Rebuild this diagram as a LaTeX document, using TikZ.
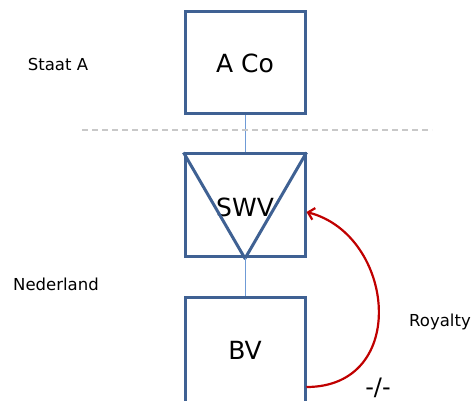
\documentclass[tikz,border=0pt]{standalone}
\usepackage{fontspec}
\setmainfont{DejaVu Sans}
\usetikzlibrary{arrows.meta}
\definecolor{boxblue}{HTML}{3F6193}
\definecolor{linkblue}{HTML}{6F9BD6}
\definecolor{royred}{HTML}{C00000}
\definecolor{dashgray}{HTML}{C8C8C8}
\begin{document}
\begin{tikzpicture}[x=1pt,y=-1pt,
  entity/.style={draw=boxblue, line width=3pt, minimum width=120pt, minimum height=102pt, inner sep=0pt, font=\fontsize{25}{28}\selectfont},
  label/.style={font=\fontsize{16.5}{18}\selectfont, inner sep=0pt},
  link/.style={draw=linkblue, line width=1pt},
  royalty/.style={draw=royred, line width=2.2pt, -{Straight Barb[length=6pt,width=12pt]}}]
\useasboundingbox (0,0) rectangle (472,401);
\clip (0,0) rectangle (472,401);
\node[entity] (aco) at (245,63) {A Co};
\node[entity, minimum height=103pt] (swv) at (245,205.5) {};
\node[font=\fontsize{25}{28}\selectfont] (swvt) at (245,207) {SWV};
\node[entity, minimum height=104pt] (bv) at (245,350) {BV};
\draw[boxblue, line width=3pt, line join=round] (swv.north west) -- (swv.south) -- (swv.north east);
\draw[link] (aco.south) -- (swv.north);
\draw[link] (swv.south) -- (bv.north);
\coordinate (dl1) at (82,130);
\coordinate (dl2) at (432,130);
\draw[dashgray, line width=1.5pt, dash pattern=on 6pt off 4pt] (dl1) -- (dl2);
\node[label] (staat) at (58,64) {Staat A};
\node[label] (ned) at (56,284) {Nederland};
\node[label] (roy) at (440,322) {Royalty};
\node[font=\fontsize{24}{26}\selectfont, inner sep=0pt] (nil) at (378,388) {-/-};
\coordinate (rs) at ([yshift=-37pt]bv.east);
\coordinate (re) at ([yshift=-6.5pt]swv.east);
\draw[royalty] (rs) .. controls (410,387) and (395,235) .. (re);
\end{tikzpicture}
\end{document}
